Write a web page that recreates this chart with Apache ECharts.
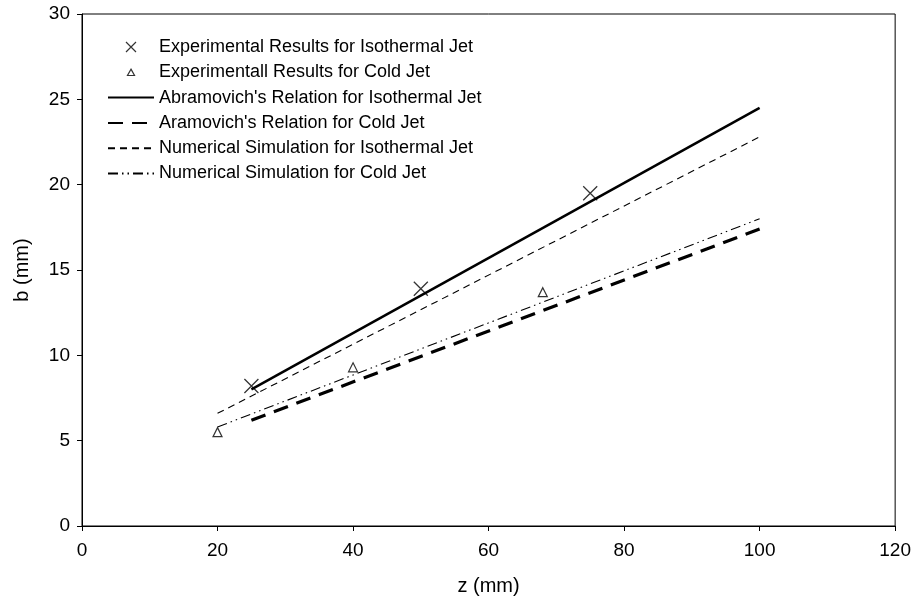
<!DOCTYPE html>
<html>
<head>
<meta charset="utf-8">
<script src="https://cdn.jsdelivr.net/npm/echarts@6/dist/echarts.min.js"></script>
<style>
  html, body { margin: 0; padding: 0; background: #fff; }
  #chart { width: 914px; height: 601px; }
</style>
</head>
<body>
<div id="chart"></div>
<script>
// measured data (z in mm, b in mm)
const isoExp = [[25, 8.2], [50, 13.9], [75, 19.5]]
const coldExp = [[20, 5.5], [40, 9.3], [68, 13.7]]
const abramIso = [[25, 8.0], [100, 24.5]]
const abramCold = [[25, 6.2], [100, 17.4]]
const numIso = [[20, 6.6], [100, 22.8]]
const numCold = [[20, 5.8], [100, 18.0]]

const names = [
  'Experimental Results for Isothermal Jet',
  'Experimentall Results for Cold Jet',
  "Abramovich's Relation for Isothermal Jet",
  "Aramovich's Relation for Cold Jet",
  'Numerical Simulation for Isothermal Jet',
  'Numerical Simulation for Cold Jet',
]

const xSym = 'path://M0,0L10,10M10,0L0,10'
const triSym = 'path://M5,0L10,9L0,9Z'
// padded versions for the legend so the icon stays small
const xIcon = 'path://M-1,-1M0,0L10,10M10,0L0,10M11,11'
const triIcon = 'path://M-4,-4M5,0L10,9L0,9ZM14,13'

const chart = echarts.init(document.getElementById('chart'))
const font = 'Liberation Sans, Arial, sans-serif'

const lineSeries = (name, data, width, dash) => ({
  name,
  type: 'line',
  data,
  symbol: 'none',
  showSymbol: false,
  silent: true,
  lineStyle: { color: '#000', width, type: dash },
  itemStyle: { color: '#000' },
  z: 2,
})

const hidden = { opacity: 0, color: 'transparent', borderColor: 'transparent' }

const option = {
  animation: false,
  backgroundColor: '#fff',
  grid: {
    left: 82, right: 18, top: 14, bottom: 73,
    show: true, borderColor: '#000', borderWidth: 1,
  },
  legend: {
    orient: 'vertical',
    left: 102,
    top: 33,
    itemWidth: 46,
    itemHeight: 12,
    itemGap: 7.3,
    textStyle: { fontFamily: font, fontSize: 18, color: '#000' },
    data: [
      { name: names[0], icon: xIcon, itemStyle: { color: 'transparent', borderColor: '#000', borderWidth: 1.2 } },
      { name: names[1], icon: triIcon, itemStyle: { color: 'transparent', borderColor: '#000', borderWidth: 1.2 } },
      { name: names[2], itemStyle: hidden },
      { name: names[3], itemStyle: hidden },
      { name: names[4], itemStyle: hidden },
      { name: names[5], itemStyle: hidden },
    ],
  },
  xAxis: {
    type: 'value',
    min: 0, max: 120, interval: 20,
    name: 'z (mm)',
    nameLocation: 'middle',
    nameGap: 50,
    nameTextStyle: { fontFamily: font, fontSize: 20, color: '#000' },
    axisLine: { show: true, lineStyle: { color: '#000', width: 1 } },
    axisTick: { show: true, length: 5, lineStyle: { color: '#000' } },
    axisLabel: { fontFamily: font, fontSize: 19, color: '#000', margin: 15 },
    splitLine: { show: false },
  },
  yAxis: {
    type: 'value',
    min: 0, max: 30, interval: 5,
    name: 'b (mm)',
    nameLocation: 'middle',
    nameGap: 50,
    nameTextStyle: { fontFamily: font, fontSize: 20, color: '#000' },
    axisLine: { show: true, lineStyle: { color: '#000', width: 1 } },
    axisTick: { show: true, length: 5, lineStyle: { color: '#000' } },
    axisLabel: { fontFamily: font, fontSize: 19, color: '#000', margin: 12 },
    splitLine: { show: false },
  },
  series: [
    {
      name: names[0],
      type: 'scatter',
      data: isoExp,
      symbol: xSym,
      symbolSize: 14,
      itemStyle: { color: 'transparent', borderColor: '#000', borderWidth: 1.3 },
      z: 3,
    },
    {
      name: names[1],
      type: 'scatter',
      data: coldExp,
      symbol: triSym,
      symbolSize: [9, 9],
      itemStyle: { color: '#fff', borderColor: '#000', borderWidth: 1.2 },
      z: 3,
    },
    lineSeries(names[2], abramIso, 2.5, 'solid'),
    lineSeries(names[3], abramCold, 3.2, [15, 9]),
    lineSeries(names[4], numIso, 1.1, [7, 5]),
    lineSeries(names[5], numCold, 1.1, [10, 4, 1.5, 4, 1.5, 4]),
  ],
}

chart.setOption(option)
</script>
</body>
</html>
